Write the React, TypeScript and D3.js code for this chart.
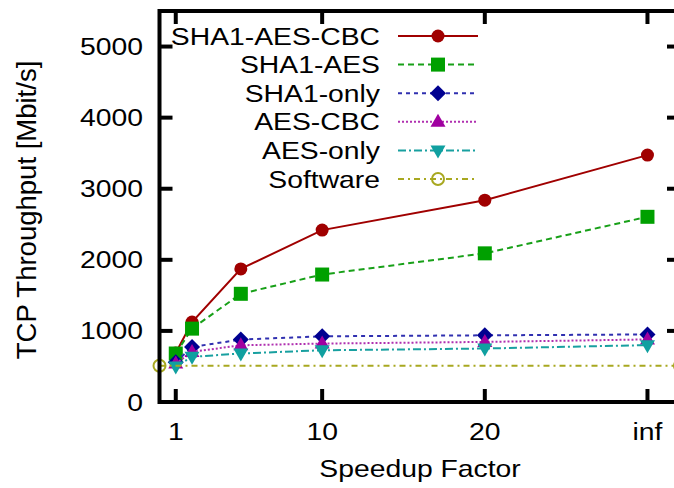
import React from 'react';
import * as d3 from 'd3';

// values
const xValues = [1, 2, 5, 10, 20, 30];
const xTickValues = [1, 10, 20, 30];
const xTickLabels = ['1', '10', '20', 'inf'];
const yTickValues = [0, 1000, 2000, 3000, 4000, 5000];

const sha1AesCbc = [690, 1124, 1872, 2418, 2839, 3473];
const sha1Aes = [682, 1032, 1522, 1793, 2091, 2605];
const sha1Only = [560, 775, 878, 924, 938, 950];
const aesCbc = [540, 705, 798, 822, 845, 880];
const aesOnly = [500, 635, 682, 728, 752, 800];
const softwareX = [0, 32];
const software = [510, 510];

const seriesNames = ['SHA1-AES-CBC', 'SHA1-AES', 'SHA1-only', 'AES-CBC', 'AES-only', 'Software'];

const W = 674;
const H = 488;
const margin = { left: 159.5, right: -6, top: 11, bottom: 86 };
const font = 'Liberation Sans, Arial, sans-serif';
const FS = 24;
const SX = 1.18; // the source image is stretched horizontally

type Style = { line: string; marker: string; dash: string; shape: string };
const styles: Style[] = [
  { line: '#a00000', marker: '#a00000', dash: '', shape: 'circle' },
  { line: '#18a018', marker: '#00a000', dash: '6,4', shape: 'square' },
  { line: '#3030b0', marker: '#000090', dash: '4,4', shape: 'diamond' },
  { line: '#b030b0', marker: '#a000a0', dash: '2,2', shape: 'triangle' },
  { line: '#18a0a0', marker: '#10a0a0', dash: '8,3,2,3', shape: 'triangleDown' },
  { line: '#a8a820', marker: '#a8a820', dash: '6,4,2,4', shape: 'openCircle' },
];

const Marker = ({ x, y, s }: { x: number; y: number; s: Style }) => {
  const r = 7;
  switch (s.shape) {
    case 'circle':
      return <circle cx={x} cy={y} r={6.5} fill={s.marker} />;
    case 'square':
      return <rect x={x - r} y={y - r} width={2 * r} height={2 * r} fill={s.marker} />;
    case 'diamond':
      return <path d={`M${x},${y - 8}L${x + 8},${y}L${x},${y + 8}L${x - 8},${y}Z`} fill={s.marker} />;
    case 'triangle':
      return <path d={`M${x},${y - 8}L${x + 7.5},${y + 5}L${x - 7.5},${y + 5}Z`} fill={s.marker} />;
    case 'triangleDown':
      return <path d={`M${x},${y + 8}L${x + 7.5},${y - 5}L${x - 7.5},${y - 5}Z`} fill={s.marker} />;
    default:
      return <circle cx={x} cy={y} r={6} fill="none" stroke={s.marker} strokeWidth={2} />;
  }
};

const App = () => {
  const x = d3.scaleLinear().domain([0, 32]).range([margin.left, W - margin.right]);
  const y = d3.scaleLinear().domain([0, 5500]).range([H - margin.bottom, margin.top]);

  const lists = [
    { xs: xValues, ys: sha1AesCbc },
    { xs: xValues, ys: sha1Aes },
    { xs: xValues, ys: sha1Only },
    { xs: xValues, ys: aesCbc },
    { xs: xValues, ys: aesOnly },
    { xs: softwareX, ys: software },
  ];

  const line = d3.line<[number, number]>().x((d) => x(d[0])).y((d) => y(d[1]));

  const x0 = x.range()[0];
  const x1 = x.range()[1];
  const y0 = y.range()[0];
  const y1 = y.range()[1];

  const legendRight = 380;
  const legendTop = 36;
  const legendStep = 28.6;

  return (
    <svg width={W} height={H} style={{ position: 'absolute', left: 0, top: 0, background: '#fff' }} fontFamily={font}>
      {/* ticks */}
      {yTickValues.map((t) => (
        <g key={'y' + t}>
          <line x1={x0} x2={x0 + 13} y1={y(t)} y2={y(t)} stroke="#000" strokeWidth={4} />
          <line x1={x1} x2={x1 - 13} y1={y(t)} y2={y(t)} stroke="#000" strokeWidth={4} />
          <text transform={`translate(143,${y(t) + 8.5}) scale(${SX},1)`} textAnchor="end" fontSize={FS}>
            {t}
          </text>
        </g>
      ))}
      {xTickValues.map((t, i) => (
        <g key={'x' + t}>
          <line x1={x(t)} x2={x(t)} y1={y0} y2={y0 - 13} stroke="#000" strokeWidth={4} />
          <line x1={x(t)} x2={x(t)} y1={y1} y2={y1 + 13} stroke="#000" strokeWidth={4} />
          <text transform={`translate(${x(t)},440) scale(${SX},1)`} textAnchor="middle" fontSize={FS}>
            {xTickLabels[i]}
          </text>
        </g>
      ))}

      {/* series */}
      {lists.map((l, i) => {
        const pts = l.xs.map((v, j) => [v, l.ys[j]] as [number, number]);
        return (
          <g key={seriesNames[i]}>
            <path d={line(pts) || ''} fill="none" stroke={styles[i].line} strokeWidth={2} strokeDasharray={styles[i].dash} />
            {pts.map((p, j) => (
              <Marker key={j} x={x(p[0])} y={y(p[1])} s={styles[i]} />
            ))}
          </g>
        );
      })}

      {/* legend */}
      {seriesNames.map((name, i) => {
        const ly = legendTop + i * legendStep;
        return (
          <g key={'lg' + name}>
            <text transform={`translate(${legendRight},${ly + 8.5}) scale(${SX},1)`} textAnchor="end" fontSize={FS}>
              {name}
            </text>
            <line x1={398} x2={478} y1={ly} y2={ly} stroke={styles[i].line} strokeWidth={2} strokeDasharray={styles[i].dash} />
            <Marker x={438} y={ly} s={styles[i]} />
          </g>
        );
      })}

      {/* frame */}
      <rect x={x0} y={y1} width={x1 - x0} height={y0 - y1} fill="none" stroke="#000" strokeWidth={4} />

      {/* axis titles */}
      <text transform={`translate(420,477) scale(${SX},1)`} textAnchor="middle" fontSize={FS}>
        Speedup Factor
      </text>
      <text transform="translate(36,210) rotate(-90)" textAnchor="middle" fontSize={27.5}>
        TCP Throughput [Mbit/s]
      </text>
    </svg>
  );
};

export default App;
